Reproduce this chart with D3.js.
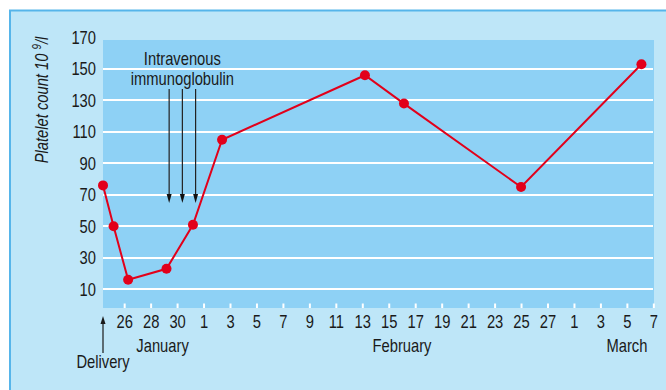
<!DOCTYPE html>
<html>
<head>
<meta charset="utf-8">
<script src="https://cdn.jsdelivr.net/npm/d3@7"></script>
<style>
  html, body { margin: 0; padding: 0; background: #ffffff; }
  svg { display: block; }
  text { font-family: "Liberation Sans", Arial, sans-serif; fill: #1a1a1a; }
</style>
</head>
<body>
<svg id="chart" width="666" height="390"></svg>
<script>
// Platelet counts after delivery; day numbers count from 1 January (Feb 1 = 32, Mar 1 = 60)
const sampleDays = [24.4, 25.2, 26.3, 29.2, 31.2, 33.4, 44.2, 47.15, 56.0, 65.1];
const plateletCounts = [76, 50, 16, 23, 51, 105, 146, 128, 75, 153];

// Axis ticks
const xTickDays = [26, 28, 30, 32, 34, 36, 38, 40, 42, 44, 46, 48, 50, 52, 54, 56, 58, 60, 62, 64, 66];
const xTickLabels = ["26", "28", "30", "1", "3", "5", "7", "9", "11", "13", "15", "17", "19", "21", "23", "25", "27", "1", "3", "5", "7"];
const yTickValues = [10, 30, 50, 70, 90, 110, 130, 150, 170];

// Month names and the day each is centred on
const monthNames = ["January", "February", "March"];
const monthDays = [28.9, 47.0, 64.0];

// Events
const deliveryDay = 24.4;
const ivigDays = [29.4, 30.4, 31.4];

const svg = d3.select("#chart");
const plot = { left: 103, right: 654, top: 40, bottom: 308 };
const FS = 18;          // label font size
const SQUEEZE = 0.82;   // horizontal squeeze for a condensed look

const x = d3.scaleLinear().domain([24.4, 66.05]).range([plot.left, plot.right]);
const y = d3.scaleLinear().domain([-1.9, 168.4]).range([plot.bottom, plot.top]);

// Condensed text placed at (px, py)
function label(parent, px, py, str, anchor) {
  return parent.append("text")
    .attr("transform", `translate(${px},${py}) scale(${SQUEEZE},1)`)
    .attr("text-anchor", anchor || "middle")
    .attr("font-size", FS)
    .text(str);
}

// Outer panel with blue border on the left and top
svg.append("rect").attr("x", 10).attr("y", 10).attr("width", 656).attr("height", 380).attr("fill", "#bee6f8");
svg.append("line").attr("x1", 10).attr("x2", 10).attr("y1", 10).attr("y2", 390)
  .attr("stroke", "#56b5ea").attr("stroke-width", 2);
svg.append("line").attr("x1", 9).attr("x2", 666).attr("y1", 10.5).attr("y2", 10.5)
  .attr("stroke", "#56b5ea").attr("stroke-width", 2);

// Plot area
svg.append("rect").attr("x", plot.left).attr("y", plot.top)
  .attr("width", plot.right - plot.left).attr("height", plot.bottom - plot.top)
  .attr("fill", "#8ed1f5");

// Horizontal gridlines
svg.append("g").selectAll("line").data(yTickValues.filter(v => y(v) > plot.top + 1)).join("line")
  .attr("x1", plot.left).attr("x2", plot.right - 1)
  .attr("y1", d => Math.round(y(d))).attr("y2", d => Math.round(y(d)))
  .attr("stroke", "#ffffff").attr("stroke-width", 2);

// Y axis labels
const gy = svg.append("g");
yTickValues.forEach(v => label(gy, 96, y(v) + 6.5, String(v), "end"));

// X axis: white inner ticks and labels
const xAxis = d3.axisBottom(x).tickValues(xTickDays).tickSize(0)
  .tickFormat((d, i) => xTickLabels[i]);
const gx = svg.append("g").attr("transform", `translate(0,${plot.bottom})`).call(xAxis);
gx.select(".domain").remove();
gx.selectAll(".tick text")
  .attr("font-size", FS).attr("font-family", null).attr("fill", "#1a1a1a")
  .attr("dy", null).attr("y", null)
  .attr("transform", `translate(0,20) scale(${SQUEEZE},1)`);
gx.selectAll(".tick").append("line")
  .attr("y1", -4.5).attr("y2", 0).attr("stroke", "#ffffff").attr("stroke-width", 2);

// Month names
monthNames.forEach((m, i) => label(svg, x(monthDays[i]), 351.5, m));

// Delivery marker
const arrowHead = (cx, tipY, dir, w, h) =>
  `M${cx},${tipY} L${cx - w / 2},${tipY - dir * h} L${cx + w / 2},${tipY - dir * h} Z`;
svg.append("line").attr("x1", x(deliveryDay)).attr("x2", x(deliveryDay))
  .attr("y1", 353).attr("y2", 322).attr("stroke", "#1a1a1a").attr("stroke-width", 1.2);
svg.append("path").attr("d", arrowHead(x(deliveryDay), 316, -1, 5, 8)).attr("fill", "#1a1a1a");
label(svg, x(deliveryDay), 368, "Delivery");

// Intravenous immunoglobulin doses
const ivig = svg.append("g");
ivig.selectAll("line").data(ivigDays).join("line")
  .attr("x1", d => x(d)).attr("x2", d => x(d))
  .attr("y1", 89).attr("y2", 197)
  .attr("stroke", "#222222").attr("stroke-width", 1.2);
ivig.selectAll("path").data(ivigDays).join("path")
  .attr("d", d => arrowHead(x(d), 203, 1, 5, 9)).attr("fill", "#111111");
label(svg, x(30.4), 65, "Intravenous");
label(svg, x(30.4), 85, "immunoglobulin");

// Platelet series
const pts = sampleDays.map((d, i) => [d, plateletCounts[i]]);
svg.append("path").datum(pts)
  .attr("d", d3.line().x(d => x(d[0])).y(d => y(d[1])))
  .attr("fill", "none").attr("stroke", "#e2001a").attr("stroke-width", 2);
svg.append("g").selectAll("circle").data(pts).join("circle")
  .attr("cx", d => x(d[0])).attr("cy", d => y(d[1])).attr("r", 5)
  .attr("fill", "#e2001a");

// Y axis title
const yTitle = svg.append("text")
  .attr("transform", `translate(48,100) rotate(-90) scale(${SQUEEZE},1)`)
  .attr("text-anchor", "middle").attr("font-size", FS).attr("font-style", "italic");
yTitle.append("tspan").text("Platelet count 10 ");
yTitle.append("tspan").attr("font-size", 12).attr("dy", -7).text("9");
yTitle.append("tspan").attr("dy", 7).text("/l");
</script>
</body>
</html>
